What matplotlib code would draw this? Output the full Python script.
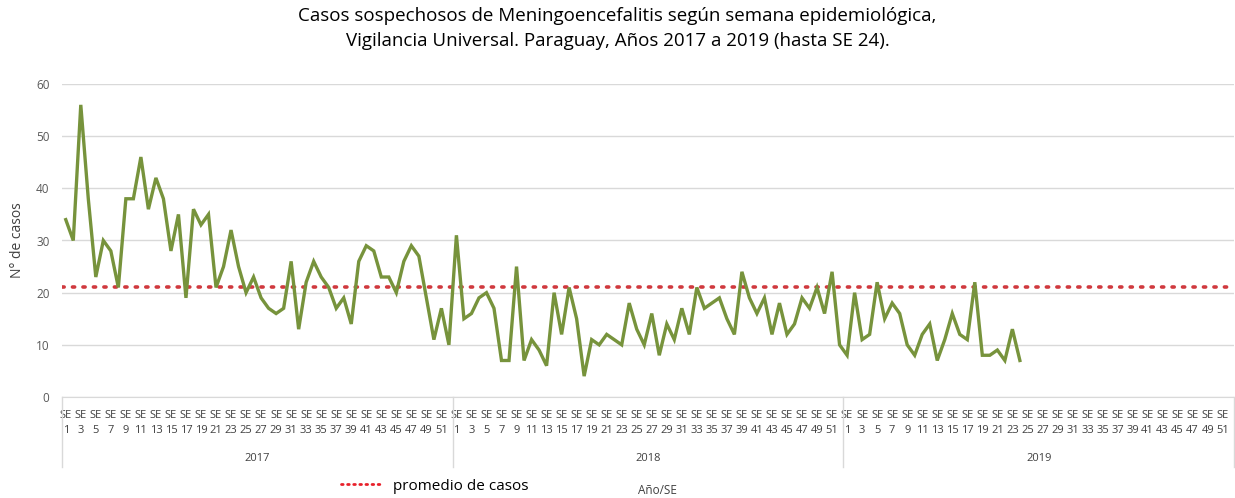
import matplotlib.pyplot as plt
import numpy as np
from matplotlib.lines import Line2D
import matplotlib.transforms as mtransforms

plt.rcParams['font.family'] = ['Open Sans', 'DejaVu Sans']

# Weekly suspected cases (SE 1-52)
casos_2017 = [34, 30, 56, 38, 23, 30, 28, 21, 38, 38, 46, 36, 42, 38, 28, 35,
              19, 36, 33, 35, 21, 25, 32, 25, 20, 23, 19, 17, 16, 17, 26, 13,
              22, 26, 23, 21, 17, 19, 14, 26, 29, 28, 23, 23, 20, 26, 29, 27,
              19, 11, 17, 10]
casos_2018 = [31, 15, 16, 19, 20, 17, 7, 7, 25, 7, 11, 9, 6, 20, 12, 21,
              15, 4, 11, 10, 12, 11, 10, 18, 13, 10, 16, 8, 14, 11, 17, 12,
              21, 17, 18, 19, 15, 12, 24, 19, 16, 19, 12, 18, 12, 14, 19, 17,
              21, 16, 24, 10]
casos_2019 = [8, 20, 11, 12, 22, 15, 18, 16, 10, 8, 12, 14, 7, 11, 16, 12,
              11, 22, 8, 8, 9, 7, 13, 7]
anios = ["2017", "2018", "2019"]
semanas = list(range(1, 53))
promedio = 21

serie = casos_2017 + casos_2018 + casos_2019
n_total = 52 * len(anios)

fig = plt.figure(figsize=(12.35, 4.98), dpi=100)
ax = fig.add_axes([62 / 1235, 101 / 498, 1172 / 1235, 313 / 498])

x = np.arange(len(serie))
ax.plot(x, serie, color="#77933C", lw=2.4, solid_joinstyle="miter", zorder=3)
prom_line, = ax.plot([-0.5, n_total - 0.5], [promedio, promedio], color="#D0393E",
                     lw=2.6, ls=(0, (0.6, 2.3)), dash_capstyle="round", zorder=2)

ax.set_xlim(-0.5, n_total - 0.5)
ax.set_ylim(0, 60)
ax.set_yticks(range(0, 61, 10))
ax.grid(axis="y", color="#D9D9D9", lw=1)
ax.set_axisbelow(True)
for s in ["top", "right", "left"]:
    ax.spines[s].set_visible(False)
ax.spines["bottom"].set_color("#D9D9D9")
ax.tick_params(axis="y", length=0, labelsize=8.5, labelcolor="#595959", pad=9)
ax.tick_params(axis="x", length=0, labelsize=8, labelcolor="#404040", pad=9)

ticks = []
labels = []
for i in range(len(anios)):
    for w in semanas[::2]:
        ticks.append(i * 52 + w - 1)
        labels.append("SE\n%d" % w)
ax.set_xticks(ticks)
ax.set_xticklabels(labels)
for lab in ax.get_xticklabels():
    lab.set_linespacing(1.5)

# year group labels and separators
trans = mtransforms.blended_transform_factory(ax.transData, ax.transAxes)
for i, anio in enumerate(anios):
    ax.text(i * 52 + 25.5, -0.195, anio, transform=trans, ha="center", va="center",
            fontsize=8, color="#404040")
for b in range(len(anios) + 1):
    ax.plot([b * 52 - 0.5, b * 52 - 0.5], [0, -0.225], transform=trans,
            color="#D9D9D9", lw=1, clip_on=False)

ax.set_ylabel("N° de casos", fontsize=10, color="#404040", labelpad=8)

fig.suptitle("Casos sospechosos de Meningoencefalitis según semana epidemiológica,\n"
             "Vigilancia Universal. Paraguay, Años 2017 a 2019 (hasta SE 24).",
             fontsize=13.5, y=0.985, linespacing=1.45)

handle = Line2D([], [], color="#E8202A", lw=2, ls=(0, (0.6, 1.6)), dash_capstyle="round")
fig.legend([handle], ["promedio de casos"], loc="center", bbox_to_anchor=(435 / 1235, 1 - 486 / 498),
           frameon=False, fontsize=11, handlelength=2.6, handletextpad=0.8)
fig.text(657 / 1235, 1 - 490 / 498, "Año/SE", ha="center", va="center", fontsize=8.5, color="#404040")

plt.savefig("out.png", dpi=100)
